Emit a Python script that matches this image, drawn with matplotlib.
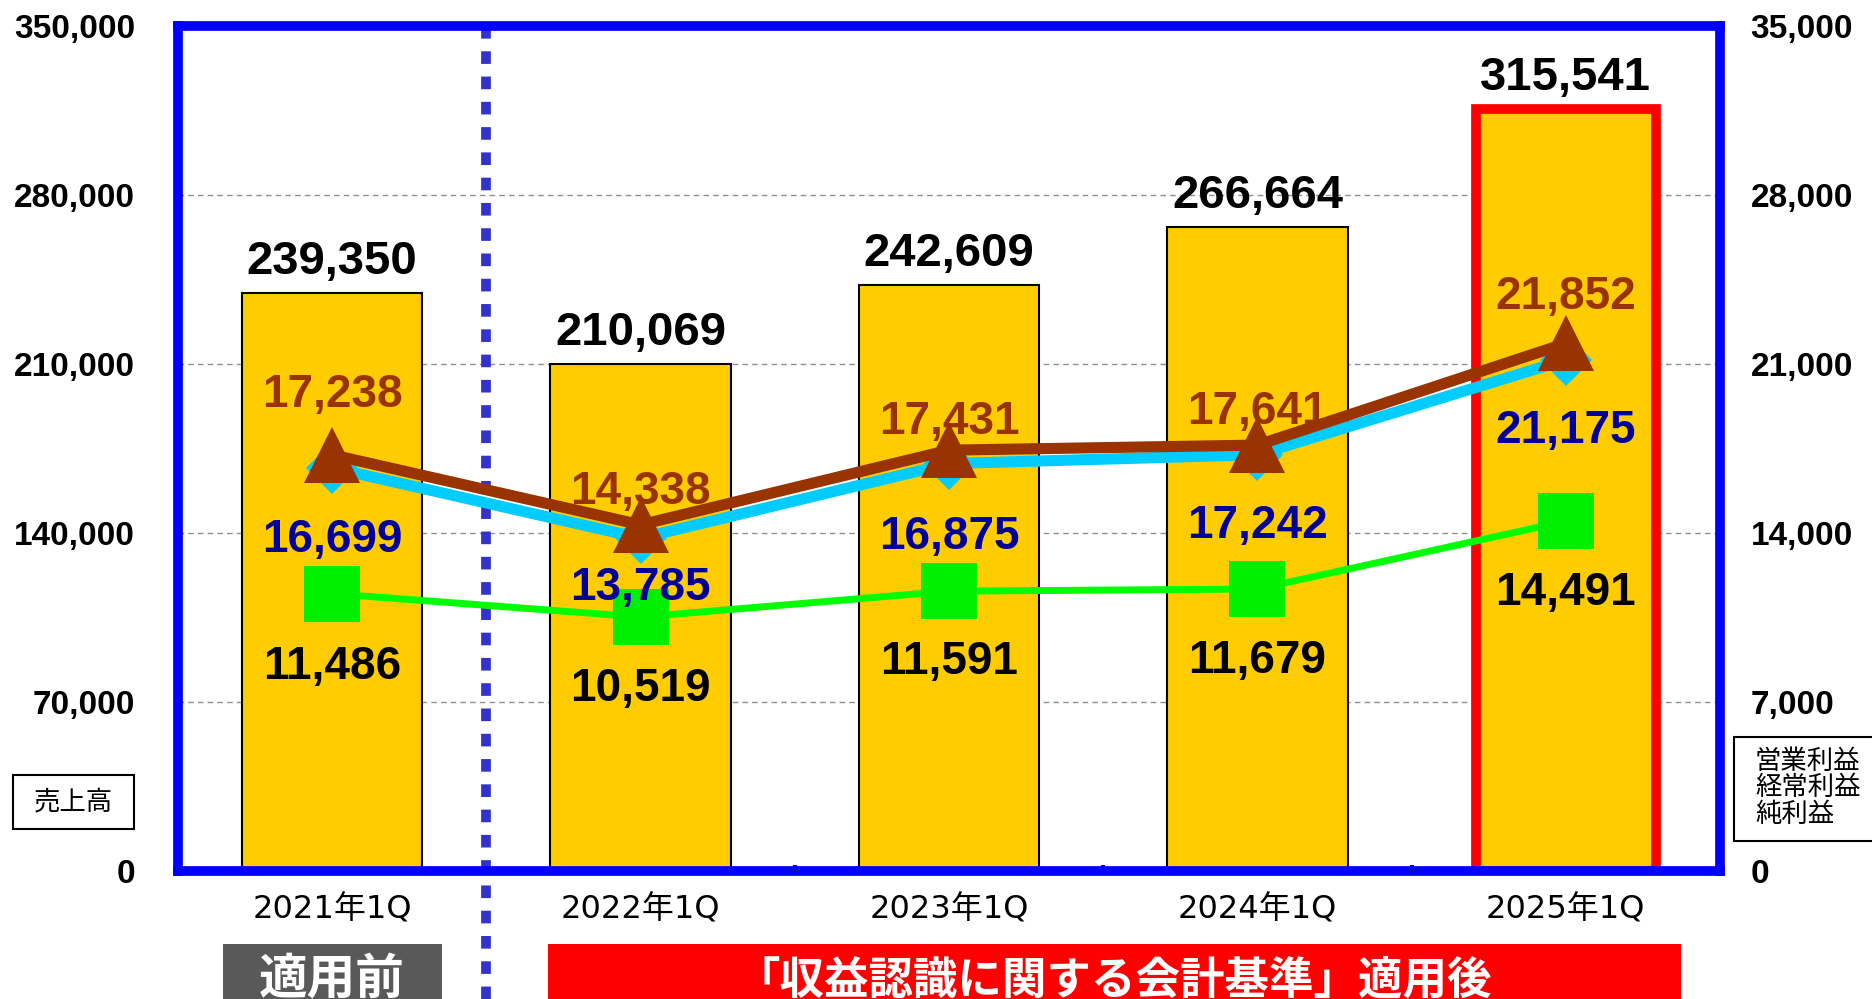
import matplotlib
matplotlib.use('Agg')
import matplotlib.pyplot as plt
from matplotlib.patches import Rectangle

plt.rcParams['font.family'] = ['Liberation Sans', 'Noto Sans CJK JP', 'DejaVu Sans']

quarters = ['2021年1Q', '2022年1Q', '2023年1Q', '2024年1Q', '2025年1Q']
sales = [239350, 210069, 242609, 266664, 315541]
op_profit = [16699, 13785, 16875, 17242, 21175]
ord_profit = [17238, 14338, 17431, 17641, 21852]
net_profit = [11486, 10519, 11591, 11679, 14491]
left_ticks = [0, 70000, 140000, 210000, 280000, 350000]
right_ticks = [0, 7000, 14000, 21000, 28000, 35000]

# label offsets (pixels) relative to markers
ord_off = [60, 33, 28, 33, 46]
op_off = [-72, -50, -73, -71, -71]
net_off = [-73, -72, -71, -72, -72]

W, H = 1872, 999
fig = plt.figure(figsize=(W / 100, H / 100), dpi=100)
ax = fig.add_axes([178 / W, 1 - 871 / H, (1720 - 178) / W, (871 - 26) / H])
ax2 = ax.twinx()

x = list(range(len(quarters)))

# bars
edges = ['black'] * 4 + ['#ff0000']
lws = [1.5] * 4 + [7]
ax.bar(x, sales, width=0.585, color='#ffcc00', edgecolor=edges, linewidth=lws, zorder=2)
ax.set_xlim(-0.5, 4.5)
ax.set_ylim(0, 350000)
ax.set_yticks(left_ticks)
ax.set_yticklabels([f'{v:,}' for v in left_ticks], fontsize=24, fontweight='bold')
ax.yaxis.grid(True, color='#909090', linestyle=(0, (4, 3)), linewidth=1)
ax.set_axisbelow(True)
ax.set_xticks(x)
ax.set_xticklabels(quarters, fontsize=23, family=['DejaVu Sans', 'Noto Sans CJK JP'])
ax.set_xticks([1.5, 2.5, 3.5], minor=True)
ax.tick_params(axis='x', which='major', length=0, pad=17)
ax.tick_params(axis='x', which='minor', direction='in', length=4, width=3, color='#0000ff')
ax.tick_params(axis='y', length=0, pad=31)
for s in ax.spines.values():
    s.set_visible(False)

for i, v in enumerate(sales):
    ax.annotate(f'{v:,}', (i, v), xytext=(0, 9), textcoords='offset pixels',
                ha='center', va='bottom', fontsize=34, fontweight='bold', zorder=5)

# lines on right axis
ax2.set_ylim(0, 35000)
ax2.set_yticks(right_ticks)
ax2.set_yticklabels([f'{v:,}' for v in right_ticks], fontsize=24, fontweight='bold')
ax2.tick_params(axis='y', length=0, pad=22)

ax2.plot(x, net_profit, color='#00ff00', linewidth=5, marker='s', markersize=40,
         markerfacecolor='#00ee00', markeredgewidth=0, zorder=3)
ax2.plot(x, op_profit, color='#00ccff', linewidth=8, marker='D', markersize=26,
         markeredgewidth=0, zorder=3)
ax2.plot(x, ord_profit, color='#993300', linewidth=8, marker='^', markersize=40,
         markeredgewidth=0, zorder=4)

for i in x:
    ax2.annotate(f'{ord_profit[i]:,}', (i, ord_profit[i]), xytext=(0, ord_off[i]),
                 textcoords='offset pixels', ha='center', va='center',
                 fontsize=33, fontweight='bold', color='#993300', zorder=6)
    ax2.annotate(f'{op_profit[i]:,}', (i, op_profit[i]), xytext=(0, op_off[i]),
                 textcoords='offset pixels', ha='center', va='center',
                 fontsize=33, fontweight='bold', color='#000099', zorder=6)
    ax2.annotate(f'{net_profit[i]:,}', (i, net_profit[i]), xytext=(0, net_off[i]),
                 textcoords='offset pixels', ha='center', va='center',
                 fontsize=33, fontweight='bold', color='black', zorder=6)

for s in ax2.spines.values():
    s.set_color('#0000ff')
    s.set_linewidth(7)

# divider between before / after
ax2.plot([0.5, 0.5], [1.0, -0.17], transform=ax2.get_xaxis_transform(), clip_on=False,
         color='#3333cc', linewidth=7, linestyle=(0, (1.3, 1.3)), dash_capstyle='butt', zorder=1)

# unit boxes
fig.patches.append(Rectangle((13 / W, 1 - 829 / H), 121 / W, 54 / H, transform=fig.transFigure,
                             facecolor='white', edgecolor='black', linewidth=1.5))
fig.text(73 / W, 1 - 802 / H, '売上高', ha='center', va='center', fontsize=19)
fig.patches.append(Rectangle((1734 / W, 1 - 841 / H), 160 / W, 104 / H, transform=fig.transFigure,
                             facecolor='white', edgecolor='black', linewidth=1.5))
for txt, yy in zip(['営業利益', '経常利益', '純利益'], [762, 788, 815]):
    fig.text(1755 / W, 1 - yy / H, txt, ha='left', va='center', fontsize=19)

# bottom banners
fig.patches.append(Rectangle((223 / W, 1 - 1010 / H), 219 / W, 66 / H, transform=fig.transFigure,
                             facecolor='#595959', edgecolor='none'))
fig.text(332 / W, 1 - 981 / H, '適用前', ha='center', va='center', fontsize=35,
         fontweight='bold', color='white')
fig.patches.append(Rectangle((548 / W, 1 - 1010 / H), 1133 / W, 66 / H, transform=fig.transFigure,
                             facecolor='#ff0000', edgecolor='none'))
fig.text(1114 / W, 1 - 981 / H, '「収益認識に関する会計基準」適用後', ha='center', va='center',
         fontsize=32, fontweight='bold', color='white')

fig.savefig('out.png', dpi=100)
